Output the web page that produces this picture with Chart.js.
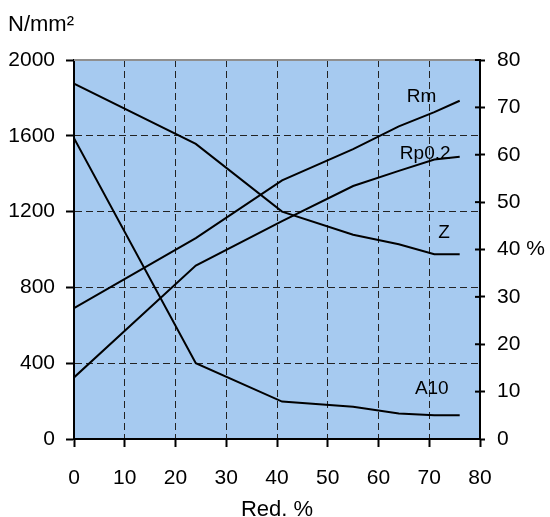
<!DOCTYPE html>
<html>
<head>
<meta charset="utf-8">
<script src="https://cdn.jsdelivr.net/npm/chart.js"></script>
<style>
  body { margin: 0; background: #fff; }
</style>
</head>
<body>
<canvas id="strengthChart" width="550" height="517"></canvas>
<script>
const reduction = [0, 24, 41, 55, 64, 71, 76];          // Red. %
const rm   = [690, 1060, 1365, 1530, 1650, 1725, 1785];  // N/mm2
const rp02 = [325, 915, 1150, 1335, 1415, 1475, 1490];   // N/mm2
const z    = [75, 62.3, 48, 43.1, 41.1, 39, 39];          // %
const a10  = [63.5, 16, 7.9, 6.8, 5.4, 5, 5];             // %

const FONT = '"Liberation Sans", Arial, sans-serif';

function points(ys) {
  return reduction.map((x, i) => ({ x: x, y: ys[i] }));
}

// fond bleu de la zone de tracé
const plotBackground = {
  id: 'plotBackground',
  beforeDraw(chart) {
    const { ctx, chartArea: a } = chart;
    ctx.save();
    ctx.fillStyle = '#A6CAF0';
    ctx.fillRect(a.left, a.top, a.right - a.left, a.bottom - a.top);
    ctx.restore();
  }
};

// bord supérieur gris, graduations intérieures à droite, noms des courbes
const extras = {
  id: 'extras',
  afterDraw(chart) {
    const { ctx, chartArea: a, scales } = chart;
    ctx.save();
    ctx.strokeStyle = '#8f8f8f';
    ctx.lineWidth = 2;
    ctx.beginPath();
    ctx.moveTo(a.left, a.top);
    ctx.lineTo(a.right, a.top);
    ctx.stroke();

    ctx.strokeStyle = '#000';
    ctx.lineWidth = 2;
    scales.y1.ticks.forEach(t => {
      const py = scales.y1.getPixelForValue(t.value);
      ctx.beginPath();
      ctx.moveTo(a.right - 5, py);
      ctx.lineTo(a.right, py);
      ctx.stroke();
    });

    ctx.fillStyle = '#000';
    ctx.font = '19px ' + FONT;
    ctx.textAlign = 'center';
    ctx.textBaseline = 'middle';
    chart.data.datasets.forEach(ds => {
      const s = scales[ds.yAxisID];
      ctx.fillText(ds.label, scales.x.getPixelForValue(ds.tag.x), s.getPixelForValue(ds.tag.y));
    });
    ctx.restore();
  }
};

function initChart() {
  const ctx = document.getElementById('strengthChart').getContext('2d');
  const line = { borderColor: '#000', borderWidth: 2, pointRadius: 0, tension: 0, fill: false };
  new Chart(ctx, {
    type: 'line',
    data: {
      datasets: [
        { ...line, label: 'Rm',    data: points(rm),   yAxisID: 'y',  tag: { x: 68.5, y: 1806 } },
        { ...line, label: 'Rp0.2', data: points(rp02), yAxisID: 'y',  tag: { x: 69.2, y: 1505 } },
        { ...line, label: 'Z',     data: points(z),    yAxisID: 'y1', tag: { x: 72.9, y: 43.5 } },
        { ...line, label: 'A10',   data: points(a10),  yAxisID: 'y1', tag: { x: 70.5, y: 10.6 } }
      ]
    },
    options: {
      responsive: false,
      animation: false,
      layout: { padding: { left: 8, right: 0, top: 0, bottom: 0 } },
      plugins: {
        legend: { display: false },
        tooltip: { enabled: false },
        title: {
          display: true,
          text: 'N/mm²',
          align: 'start',
          color: '#000',
          font: { family: FONT, size: 22, weight: 'normal' },
          padding: { top: 12, bottom: 21.6 }
        }
      },
      scales: {
        x: {
          type: 'linear',
          min: 0, max: 80,
          ticks: {
            stepSize: 10, color: '#000', padding: 19, font: { family: FONT, size: 21 },
            callback: v => String(v)
          },
          grid: { color: '#222', lineWidth: 1, tickLength: 8, tickColor: '#000', tickWidth: 2 },
          border: { color: '#000', width: 2, dash: [7, 4] },
          title: {
            display: true, text: 'Red. %', color: '#000',
            font: { family: FONT, size: 22 }, padding: { top: 0, bottom: -6 }
          },
          afterFit(s) { s.height = 78; }
        },
        y: {
          position: 'left',
          min: 0, max: 2000,
          ticks: {
            stepSize: 400, color: '#000', padding: 11, font: { family: FONT, size: 21 },
            callback: v => String(v)
          },
          grid: {
            color: c => (c.tick && c.tick.value === 2000) ? 'rgba(0,0,0,0)' : '#222',
            lineWidth: 1, tickLength: 8, tickColor: '#000', tickWidth: 2
          },
          border: { color: '#000', width: 2, dash: [7, 4] },
          afterFit(s) { s.width = 66; }
        },
        y1: {
          position: 'right',
          min: 0, max: 80,
          ticks: {
            stepSize: 10, color: '#000', padding: 12, font: { family: FONT, size: 21 },
            callback: v => v === 40 ? '40 %' : String(v)
          },
          grid: { drawOnChartArea: false, tickLength: 5, tickColor: '#000', tickWidth: 2 },
          border: { color: '#000', width: 2 },
          afterFit(s) { s.width = 70; }
        }
      }
    },
    plugins: [plotBackground, extras]
  });
}

document.addEventListener('DOMContentLoaded', initChart);
</script>
</body>
</html>
